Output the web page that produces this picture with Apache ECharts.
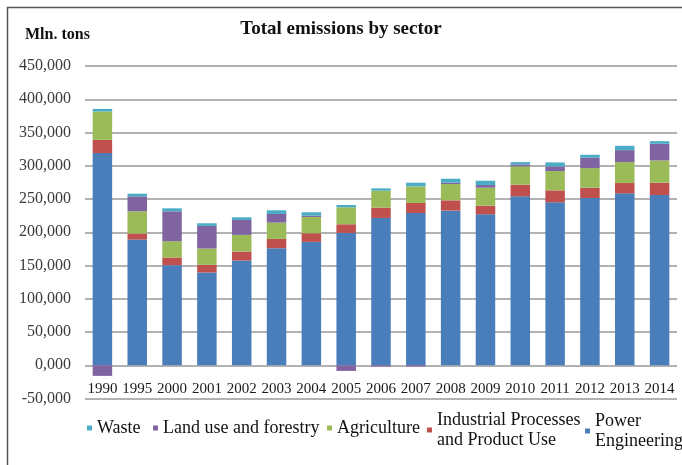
<!DOCTYPE html>
<html>
<head>
<meta charset="utf-8">
<script src="https://cdn.jsdelivr.net/npm/echarts@6/dist/echarts.min.js"></script>
<style>
  html, body { margin: 0; padding: 0; background: #fff; }
  #chart { width: 682px; height: 465px; }
</style>
</head>
<body>
<div id="chart"></div>
<script>
const years = ['1990', '1995', '2000', '2001', '2002', '2003', '2004', '2005', '2006',
  '2007', '2008', '2009', '2010', '2011', '2012', '2013', '2014'];

const power = [319000, 189000, 150500, 139500, 157500, 176000, 185500, 199000, 221500,
  229000, 232500, 227000, 254000, 245000, 251500, 258500, 256000];
const industrial = [20000, 9000, 11500, 11500, 13500, 14000, 13000, 13000, 15500,
  15000, 15500, 13000, 17500, 18000, 15500, 15500, 18500];
const agriculture = [42500, 33500, 24500, 24500, 25000, 24500, 24500, 25500, 25500,
  25000, 24500, 27000, 27500, 29000, 29500, 31500, 33500];
const landUse = [-16000, 22500, 45000, 34000, 22500, 13000, 2000, -8500, -2000,
  -2000, 2000, 4000, 3000, 7000, 15500, 18000, 25000];
const waste = [4000, 4000, 4500, 4000, 4000, 5500, 5000, 3500, 3500,
  5500, 6000, 6500, 3500, 6000, 4500, 6500, 4000];

const serif = "'Liberation Serif', 'Times New Roman', serif";
const gridColor = '#999999';

// one legend per entry so each can sit where it does in the picture
function legendAt(name, label, left, top) {
  return {
    data: [name],
    left: left,
    top: top,
    padding: 0,
    icon: 'rect',
    itemWidth: 5,
    itemHeight: 5,
    selectedMode: false,
    formatter: function () { return label; },
    textStyle: { fontFamily: serif, fontSize: 18, color: '#111', lineHeight: 20 }
  };
}

function bar(name, data, color) {
  return {
    name: name,
    type: 'bar',
    stack: 'total',
    barWidth: '56%',
    itemStyle: { color: color },
    data: data
  };
}

const chart = echarts.init(document.getElementById('chart'));

chart.setOption({
  animation: false,
  title: [
    {
      text: 'Total emissions by sector',
      left: 'center',
      top: 15,
      textStyle: { fontFamily: serif, fontSize: 19, fontWeight: 'bold', color: '#111' }
    },
    {
      text: 'Mln. tons',
      left: 20,
      top: 22,
      textStyle: { fontFamily: serif, fontSize: 16, fontWeight: 'bold', color: '#111' }
    }
  ],
  graphic: [{
    type: 'rect',
    shape: { x: 7.5, y: 7.5, width: 700, height: 500 },
    style: { fill: 'none', stroke: '#555', lineWidth: 1.5 },
    silent: true
  }],
  legend: [
    legendAt('Waste', 'Waste', 87, 418),
    legendAt('Land use and forestry', 'Land use and forestry', 153, 418),
    legendAt('Agriculture', 'Agriculture', 327, 418),
    legendAt('Industrial Processes and Product Use', 'Industrial Processes\nand Product Use', 427, 410),
    legendAt('Power Engineering', 'Power\nEngineering', 585, 411)
  ],
  grid: { left: 85, right: 5, top: 66, bottom: 66.5 },
  xAxis: {
    type: 'category',
    data: years,
    // labels sit between the 0 and -50,000 lines, as in the original
    axisLine: { show: false, onZero: false },
    axisTick: { show: false },
    axisLabel: { interval: 0, margin: -17, fontFamily: serif, fontSize: 15, color: '#1a1a1a' }
  },
  yAxis: {
    type: 'value',
    min: -50000,
    max: 450000,
    interval: 50000,
    axisLine: { show: false },
    axisTick: { show: false },
    splitLine: { lineStyle: { color: gridColor, width: 1.6 } },
    axisLabel: {
      margin: 14,
      fontFamily: serif,
      fontSize: 16,
      color: '#3a3a3a',
      formatter: function (v) {
        return v === 0 ? '0,000' : v.toLocaleString('en-US');
      }
    }
  },
  series: [
    bar('Power Engineering', power, '#4a7ebb'),
    bar('Industrial Processes and Product Use', industrial, '#c0504d'),
    bar('Agriculture', agriculture, '#9bbb59'),
    bar('Land use and forestry', landUse, '#8064a2'),
    bar('Waste', waste, '#4bacc6')
  ]
});
</script>
</body>
</html>
